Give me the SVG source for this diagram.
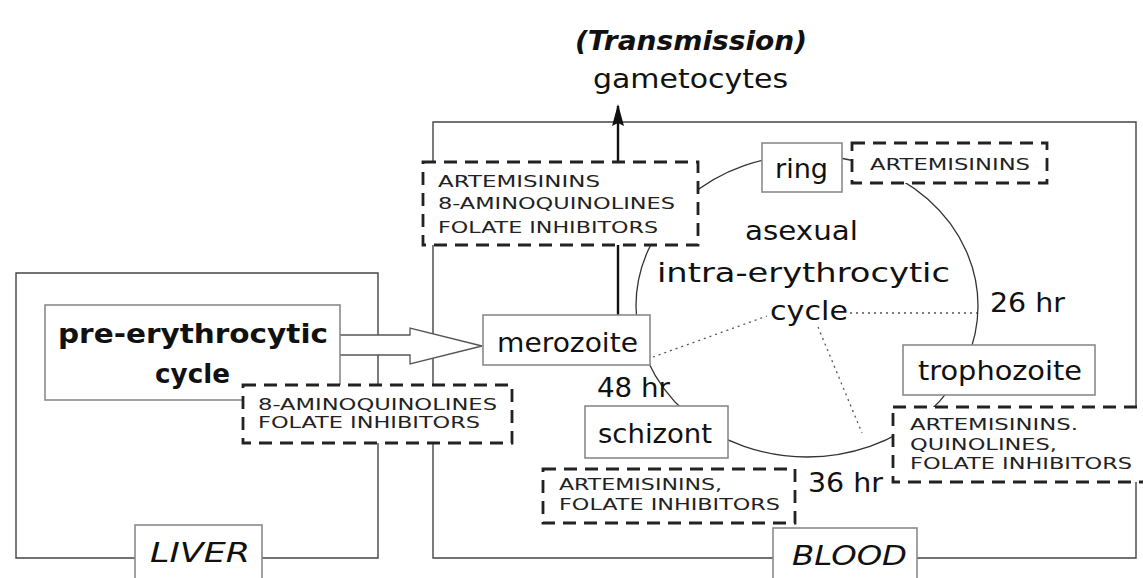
<svg xmlns="http://www.w3.org/2000/svg" width="1143" height="578" viewBox="0 0 1143 578">
<defs>
<style>
.frame{fill:none;stroke:#444;stroke-width:1.4}
.node{fill:#fff;stroke:#8a8a8a;stroke-width:1.6}
.drug{fill:#fff;stroke:#222;stroke-width:2.8;stroke-dasharray:13 8}
.arc{fill:none;stroke:#333;stroke-width:1.3}
.dot{fill:none;stroke:#555;stroke-width:1.3;stroke-dasharray:2 4}
.big{font-family:"DejaVu Sans",sans-serif;font-size:27px;fill:#111}
.bold{font-weight:bold}
.ital{font-style:italic}
.caps{font-family:"DejaVu Sans",sans-serif;font-size:16.5px;fill:#222}
</style>
<marker id="ah" viewBox="0 0 22 12" refX="20" refY="6" markerWidth="22" markerHeight="12" markerUnits="userSpaceOnUse" orient="auto">
<path d="M0,0 L22,6 L0,12 L3,6 Z" fill="#111"/>
</marker>
</defs>
<rect width="1143" height="578" fill="#fff"/>

<g id="frames">
<path class="frame" d="M16,273 H378 V558 H16 Z"/>
<path class="frame" d="M433,122 H1136 V558 H433 Z"/>
</g>

<g id="connectors">
<ellipse class="arc" cx="807" cy="306" rx="171" ry="151"/>
<line x1="618" y1="315" x2="618" y2="106" stroke="#111" stroke-width="2.4" marker-end="url(#ah)"/>
<line class="dot" x1="653" y1="357" x2="767" y2="316"/>
<line class="dot" x1="850" y1="313" x2="977" y2="313"/>
<line class="dot" x1="818" y1="327" x2="862" y2="433"/>
<polygon points="333,335 410,335 410,328 482,346 410,364 410,355 333,355" fill="#fff" stroke="#555" stroke-width="1.3"/>
</g>

<g id="pre-erythrocytic">
<rect class="node" x="45" y="305" width="295" height="95"/>
<text class="big bold" x="58" y="343" font-size="30" textLength="270" lengthAdjust="spacingAndGlyphs">pre-erythrocytic</text>
<text class="big bold" x="155" y="383" font-size="30" textLength="75" lengthAdjust="spacingAndGlyphs">cycle</text>
</g>

<g id="merozoite">
<rect class="node" x="483" y="315" width="167" height="50"/>
<text class="big" x="497" y="352" textLength="141" lengthAdjust="spacingAndGlyphs">merozoite</text>
</g>

<g id="ring">
<rect class="node" x="762" y="143" width="80" height="49"/>
<text class="big" x="775" y="178" textLength="53" lengthAdjust="spacingAndGlyphs">ring</text>
</g>

<g id="trophozoite">
<rect class="node" x="903" y="345" width="192" height="50"/>
<text class="big" x="918" y="380" textLength="164" lengthAdjust="spacingAndGlyphs">trophozoite</text>
</g>

<g id="schizont">
<rect class="node" x="585" y="406" width="143" height="52"/>
<text class="big" x="598" y="443" textLength="114" lengthAdjust="spacingAndGlyphs">schizont</text>
</g>

<g id="drug-gametocyte">
<rect class="drug" x="423" y="162" width="275" height="83"/>
<text class="caps" x="438" y="187" textLength="162" lengthAdjust="spacingAndGlyphs">ARTEMISININS</text>
<text class="caps" x="438" y="209" textLength="237" lengthAdjust="spacingAndGlyphs">8-AMINOQUINOLINES</text>
<text class="caps" x="438" y="233" textLength="220" lengthAdjust="spacingAndGlyphs">FOLATE INHIBITORS</text>
</g>

<g id="drug-liver">
<rect class="drug" x="243" y="385" width="269" height="58"/>
<text class="caps" x="258" y="410" textLength="239" lengthAdjust="spacingAndGlyphs">8-AMINOQUINOLINES</text>
<text class="caps" x="258" y="428" textLength="222" lengthAdjust="spacingAndGlyphs">FOLATE INHIBITORS</text>
</g>

<g id="drug-ring">
<rect class="drug" x="852" y="143" width="195" height="40"/>
<text class="caps" x="870" y="170" textLength="160" lengthAdjust="spacingAndGlyphs">ARTEMISININS</text>
</g>

<g id="drug-trophozoite">
<rect class="drug" x="893" y="407" width="260" height="75"/>
<text class="caps" x="910" y="430" textLength="168" lengthAdjust="spacingAndGlyphs">ARTEMISININS.</text>
<text class="caps" x="910" y="450" textLength="147" lengthAdjust="spacingAndGlyphs">QUINOLINES,</text>
<text class="caps" x="910" y="469" textLength="222" lengthAdjust="spacingAndGlyphs">FOLATE INHIBITORS</text>
</g>

<g id="drug-schizont">
<rect class="drug" x="543" y="469" width="252" height="54"/>
<text class="caps" x="559" y="490" textLength="163" lengthAdjust="spacingAndGlyphs">ARTEMISININS,</text>
<text class="caps" x="559" y="510" textLength="221" lengthAdjust="spacingAndGlyphs">FOLATE INHIBITORS</text>
</g>

<g id="labels">
<text class="big bold ital" x="575" y="50" textLength="232" lengthAdjust="spacingAndGlyphs">(Transmission)</text>
<text class="big" x="593" y="88" textLength="195" lengthAdjust="spacingAndGlyphs">gametocytes</text>
<text class="big" x="745" y="240" font-size="30" textLength="113" lengthAdjust="spacingAndGlyphs">asexual</text>
<text class="big" x="657" y="282" font-size="30" textLength="293" lengthAdjust="spacingAndGlyphs">intra-erythrocytic</text>
<text class="big" x="770" y="320" font-size="30" textLength="78" lengthAdjust="spacingAndGlyphs">cycle</text>
<text class="big" x="990" y="312" font-size="26" textLength="75" lengthAdjust="spacingAndGlyphs">26 hr</text>
<text class="big" x="597" y="397" font-size="26" textLength="73" lengthAdjust="spacingAndGlyphs">48 hr</text>
<text class="big" x="808" y="492" font-size="26" textLength="75" lengthAdjust="spacingAndGlyphs">36 hr</text>
</g>

<g id="liver-label">
<rect class="node" x="135" y="525" width="127" height="60"/>
<text class="big ital" x="150" y="562" font-size="29" textLength="100" lengthAdjust="spacingAndGlyphs">LIVER</text>
</g>

<g id="blood-label">
<rect class="node" x="773" y="528" width="144" height="60"/>
<text class="big ital" x="792" y="565" font-size="29" textLength="115" lengthAdjust="spacingAndGlyphs">BLOOD</text>
</g>
</svg>
